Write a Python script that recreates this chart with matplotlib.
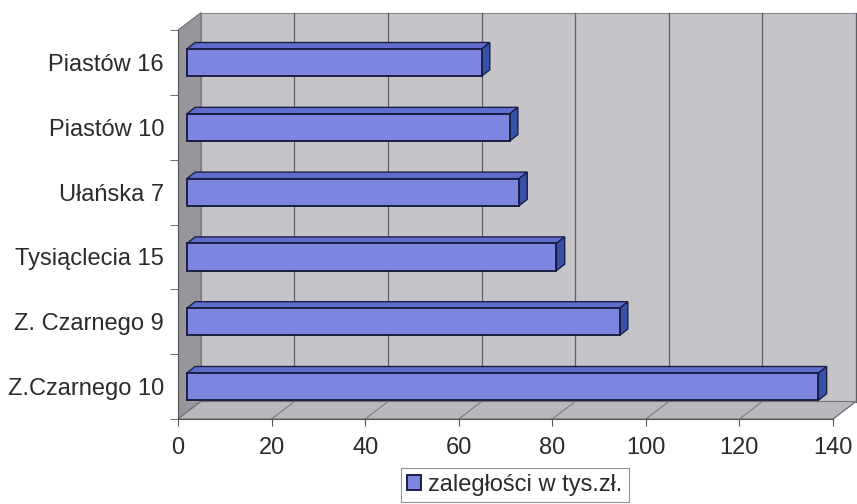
import matplotlib.pyplot as plt
from matplotlib.patches import Polygon

plt.rcParams["font.family"] = ["Liberation Sans", "DejaVu Sans"]

# zaległości czynszowe wg budynku (tys. zł), od dołu do góry
budynki = ["Z.Czarnego 10", "Z. Czarnego 9", "Tysiąclecia 15", "Ułańska 7", "Piastów 10", "Piastów 16"]
zaleglosci = [135, 92.5, 79, 71, 69, 63]
x_ticks = [0, 20, 40, 60, 80, 100, 120, 140]
legenda = "zaległości w tys.zł."

X_MAX = 140
# pseudo-3D: przesunięcie tylnej ściany i głębokość słupków (jednostki danych)
DX, DY = 4.9, 0.27
BAR_X0 = 1.9
BAR_DX, BAR_DY = 1.75, 0.10
BAR_H = 0.42

WALL = "#c5c5c9"
SIDE_WALL = "#97979b"
FLOOR = "#b9b9bd"
GRID = "#5e5e66"
FACE = "#7d85e0"
TOP = "#5f6dcc"
SIDE = "#3552a8"
EDGE = "#1b1f45"
TEXT = "#2b2b2b"

fig = plt.figure(figsize=(8.57, 5.04), dpi=100)
ax = fig.add_axes([178 / 857, 85 / 504, 679 / 857, 408 / 504])
n = len(budynki)
ax.set_xlim(0, 679 / (655 / X_MAX))
ax.set_ylim(-0.5, -0.5 + 408 / 64.8)

y0, y1 = -0.5, n - 0.5

# ściany i podłoga
ax.add_patch(Polygon([(DX, y0 + DY), (X_MAX + DX, y0 + DY), (X_MAX + DX, y1 + DY), (DX, y1 + DY)],
                     closed=True, fc=WALL, ec="#8a8a90", lw=0.8, zorder=0))
ax.add_patch(Polygon([(0, y0), (0, y1), (DX, y1 + DY), (DX, y0 + DY)],
                     closed=True, fc=SIDE_WALL, ec="#6f6f75", lw=0.8, zorder=1))
ax.add_patch(Polygon([(0, y0), (X_MAX, y0), (X_MAX + DX, y0 + DY), (DX, y0 + DY)],
                     closed=True, fc=FLOOR, ec="#6f6f75", lw=0.8, zorder=1))

for t in x_ticks[1:]:
    ax.plot([t + DX, t + DX], [y0 + DY, y1 + DY], color=GRID, lw=0.9, zorder=0.5)
    ax.plot([t, t + DX], [y0, y0 + DY], color="#7a7a80", lw=0.8, zorder=1.5)

# słupki: przód, góra i bok
ax.barh(range(n), zaleglosci, height=BAR_H, left=BAR_X0, color=FACE,
        edgecolor=EDGE, linewidth=1.4, zorder=3, label=legenda)
for i, v in enumerate(zaleglosci):
    top = i + BAR_H / 2
    bot = i - BAR_H / 2
    x_end = BAR_X0 + v
    ax.add_patch(Polygon([(BAR_X0, top), (x_end, top), (x_end + BAR_DX, top + BAR_DY),
                          (BAR_X0 + BAR_DX, top + BAR_DY)],
                         closed=True, fc=TOP, ec=EDGE, lw=1.0, zorder=2.5))
    ax.add_patch(Polygon([(x_end, bot), (x_end, top), (x_end + BAR_DX, top + BAR_DY),
                          (x_end + BAR_DX, bot + BAR_DY)],
                         closed=True, fc=SIDE, ec=EDGE, lw=1.0, zorder=2.5))

for s in ["top", "right"]:
    ax.spines[s].set_visible(False)
ax.spines["left"].set_bounds(y0, y1)
ax.spines["bottom"].set_bounds(0, X_MAX)
ax.spines["left"].set_color("#555555")
ax.spines["bottom"].set_color("#555555")

ax.set_xticks(x_ticks)
ax.set_xticklabels([str(t) for t in x_ticks], fontsize=17, color=TEXT)
ax.tick_params(axis="x", length=5, color="#555555", pad=8)

ax.set_yticks(range(n))
ax.set_yticklabels(budynki, fontsize=17, color=TEXT)
ax.set_yticks([k - 0.5 for k in range(n + 1)], minor=True)
ax.tick_params(axis="y", which="major", length=0, pad=10)
ax.tick_params(axis="y", which="minor", length=6, color="#555555")

leg = fig.legend(loc="center", bbox_to_anchor=(515 / 857, 1 - 485 / 504), fontsize=17,
                 frameon=True, fancybox=False, handlelength=0.6, handleheight=0.6,
                 handletextpad=0.3, borderpad=0.25, borderaxespad=0)
leg.get_frame().set_edgecolor("#777777")
leg.get_frame().set_linewidth(0.8)
for txt in leg.get_texts():
    txt.set_color(TEXT)

fig.savefig("out.png", dpi=100)
